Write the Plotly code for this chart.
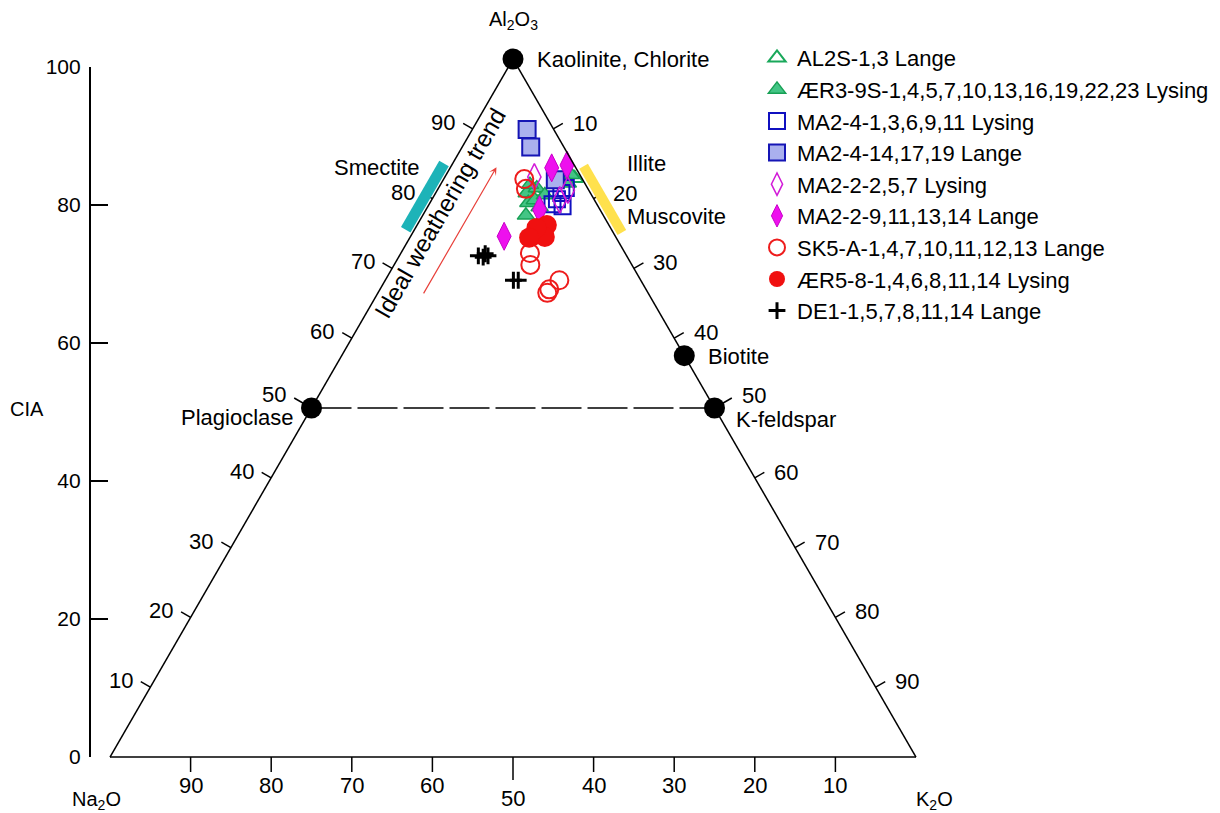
import numpy as np
import plotly.graph_objects as go

FONT = "Liberation Sans, Arial, sans-serif"
FIG_W, FIG_H = 1220, 813

# ---------------- data (A = Al2O3, CN = CaO*+Na2O, K = K2O ; molar %) ----------------
AL2S_A = [82.9, 81.0]
AL2S_CN = [0.9, 7.0]
AL2S_K = [16.2, 12.0]

AER3_A = [80.8, 79.4, 77.6, 79.8, 81.5, 83.4, 82.2, 80.5, 78.8, 82.0]
AER3_CN = [7.9, 8.4, 9.6, 7.4, 6.3, 1.1, 2.1, 5.8, 7.3, 6.9]
AER3_K = [11.3, 12.2, 12.8, 12.8, 12.2, 15.5, 15.7, 13.7, 13.9, 11.1]

MA24O_A = [79.2, 79.9, 78.9, 81.5, 80.8]
MA24O_CN = [5.5, 4.6, 4.4, 2.7, 3.6]
MA24O_K = [15.3, 15.5, 16.7, 15.8, 15.6]

MA24F_A = [89.9, 87.4, 82.7]
MA24F_CN = [3.3, 4.1, 3.4]
MA24F_K = [6.8, 8.5, 13.9]

MA22O_A = [83.1, 79.8, 81.2]
MA22O_CN = [5.8, 4.3, 2.6]
MA22O_K = [11.1, 15.9, 16.2]

MA22F_A = [84.4, 84.8, 78.4, 74.6]
MA22F_CN = [3.0, 0.9, 7.5, 13.8]
MA22F_K = [12.6, 14.3, 14.1, 11.6]

SK5_A = [82.8, 81.4, 72.2, 70.5, 67.0, 68.3, 66.5]
SK5_CN = [7.2, 7.7, 11.8, 12.6, 12.0, 10.1, 12.5]
SK5_K = [10.0, 10.9, 16.0, 16.9, 21.0, 21.6, 21.0]

AER5_A = [74.6, 75.2, 76.2, 74.5, 75.8, 74.4]
AER5_CN = [10.3, 9.1, 7.7, 8.8, 9.2, 10.8]
AER5_K = [15.1, 15.7, 16.1, 16.7, 15.0, 14.8]

DE1_A = [71.8, 71.6, 71.8, 68.3, 68.3, 72.1]
DE1_CN = [18.4, 17.9, 17.2, 15.8, 15.2, 17.4]
DE1_K = [9.8, 10.5, 11.0, 15.9, 16.5, 10.5]

MIN_NAMES = ["Kaolinite, Chlorite", "Plagioclase", "K-feldspar", "Biotite"]
MIN_A = [100, 50, 50, 57.5]
MIN_CN = [0, 50, 0, 0]
MIN_K = [0, 0, 50, 42.5]

FELDSPAR_A = [50, 50]
FELDSPAR_CN = [50, 0]
FELDSPAR_K = [0, 50]

SMECTITE_A = [75.0, 84.5]      # on A-CN edge
ILLITE_A = [74.6, 84.1]        # on A-K edge
TREND_A = [66.2, 84.5]
TREND_K = 5.7

TICKS = [10, 20, 30, 40, 50, 60, 70, 80, 90]
CIA_TICKS = [0, 20, 40, 60, 80, 100]

# ---------------- geometry helpers ----------------
TRI_X0, TRI_X1, TRI_YB = 110, 916, 757
TRI_W = TRI_X1 - TRI_X0
TRI_H = TRI_W * np.sqrt(3) / 2
TRI_YT = TRI_YB - TRI_H
CIA_Y0, CIA_Y100 = 757, 67
CIA_X = 90
S3 = np.sqrt(3) / 2


def tern_px(a, k):
    x = TRI_X0 + TRI_W * (k + a / 2) / 100
    y = TRI_YB - TRI_H * a / 100
    return x, y


def paper(x, y):
    return x / FIG_W, 1 - y / FIG_H


fig = go.Figure()

# dashed feldspar join
fig.add_trace(go.Scatterternary(
    a=FELDSPAR_A, b=FELDSPAR_CN, c=FELDSPAR_K, mode="lines",
    line=dict(color="black", width=1.5, dash="40px,6px"),
    showlegend=False, hoverinfo="skip", cliponaxis=False))

series = [
    ("AL2S-1,3 Lange", AL2S_A, AL2S_CN, AL2S_K,
     dict(symbol="triangle-up-open", size=15, color="#19a85a", line=dict(width=2, color="#19a85a"))),
    ("ÆR3-9S-1,4,5,7,10,13,16,19,22,23 Lysing", AER3_A, AER3_CN, AER3_K,
     dict(symbol="triangle-up", size=15, color="#43c585", line=dict(width=1.5, color="#17a055"))),
    ("MA2-4-1,3,6,9,11 Lysing", MA24O_A, MA24O_CN, MA24O_K,
     dict(symbol="square-open", size=16, color="#1010c0", line=dict(width=2, color="#1010c0"))),
    ("MA2-4-14,17,19 Lange", MA24F_A, MA24F_CN, MA24F_K,
     dict(symbol="square", size=17, color="#aab0ee", line=dict(width=2, color="#1515b5"))),
    ("MA2-2-2,5,7 Lysing", MA22O_A, MA22O_CN, MA22O_K,
     dict(symbol="diamond-tall-open", size=19, color="#d21ad8", line=dict(width=1.5, color="#d21ad8"))),
    ("MA2-2-9,11,13,14 Lange", MA22F_A, MA22F_CN, MA22F_K,
     dict(symbol="diamond-tall", size=20, color="#ee10ee", line=dict(width=1, color="#c800c8"))),
    ("SK5-A-1,4,7,10,11,12,13 Lange", SK5_A, SK5_CN, SK5_K,
     dict(symbol="circle-open", size=18, color="#ee1c1c", line=dict(width=2, color="#ee1c1c"))),
    ("ÆR5-8-1,4,6,8,11,14 Lysing", AER5_A, AER5_CN, AER5_K,
     dict(symbol="circle", size=20, color="#f01010", line=dict(width=0, color="#f01010"))),
    ("DE1-1,5,7,8,11,14 Lange", DE1_A, DE1_CN, DE1_K,
     dict(symbol="cross-thin-open", size=12, color="black", line=dict(width=3, color="black"))),
]
for name, a, cn, k, mk in series:
    fig.add_trace(go.Scatterternary(
        a=a, b=cn, c=k, mode="markers", name=name, marker=mk, cliponaxis=False))

# end-member minerals
fig.add_trace(go.Scatterternary(
    a=MIN_A, b=MIN_CN, c=MIN_K, mode="markers", text=MIN_NAMES,
    marker=dict(symbol="circle", size=21, color="black"),
    showlegend=False, cliponaxis=False, hoverinfo="text"))

# invisible cartesian trace to carry the CIA axis
fig.add_trace(go.Scatter(x=[0.5], y=[50], mode="markers", marker=dict(opacity=0),
                         showlegend=False, hoverinfo="skip", xaxis="x", yaxis="y"))

tern_axis = dict(
    title=dict(text=""), ticks="", showticklabels=False,
    showline=True, linecolor="black", linewidth=1.5, showgrid=False, min=0)

shapes = []
ann = []


def seg(x0, y0, x1, y1, color="black", width=1.5):
    p0 = paper(x0, y0)
    p1 = paper(x1, y1)
    shapes.append(dict(type="line", xref="paper", yref="paper", x0=p0[0], y0=p0[1],
                       x1=p1[0], y1=p1[1], line=dict(color=color, width=width)))


def label(text, x, y, xanchor="center", size=22, textangle=0, yanchor="middle"):
    px, py = paper(x, y)
    ann.append(dict(text=text, x=px, y=py, xref="paper", yref="paper", showarrow=False,
                    xanchor=xanchor, yanchor=yanchor, textangle=textangle,
                    font=dict(size=size, color="black", family=FONT)))


# ---------------- ternary ticks (perpendicular to edges) ----------------
TICK_FS = 22
for t in TICKS:
    # left edge: Al2O3
    L = 20 if t == 50 else 11
    ex, ey = tern_px(t, 0)
    tx, ty = ex - L * S3, ey - L * 0.5
    seg(ex, ey, tx, ty)
    label(str(t), tx - 6, ty - (3 if t == 50 else 1), xanchor="right", size=TICK_FS)
    # right edge: K2O
    ex, ey = tern_px(100 - t, t)
    tx, ty = ex + L * S3, ey - L * 0.5
    seg(ex, ey, tx, ty)
    label(str(t), tx + 8, ty - (2 if t == 50 else 0), xanchor="left", size=TICK_FS)
    # bottom edge: Na2O (CN)
    Lb = 23 if t == 50 else 15
    ex, ey = tern_px(0, 100 - t)
    seg(ex, ey, ex, ey + Lb)
    label(str(t), ex, ey + Lb + (18 if t == 50 else 13), size=TICK_FS)


def edge_bar(avals, side, color, width, offset=7.5):
    if side == "left":
        pts = [tern_px(a, 0) for a in avals]
        n = (-S3, -0.5)
    else:
        pts = [tern_px(a, 100 - a) for a in avals]
        n = (S3, -0.5)
    (x0, y0), (x1, y1) = [(p[0] + offset * n[0], p[1] + offset * n[1]) for p in pts]
    seg(x0, y0, x1, y1, color=color, width=width)


edge_bar(SMECTITE_A, "left", "#1db3b8", 11)
edge_bar(ILLITE_A, "right", "#ffe14d", 10)

# ---------------- labels ----------------
label("Al<sub>2</sub>O<sub>3</sub>", 513, 20, size=20)
label("Na<sub>2</sub>O", 96, 800, size=20)
label("K<sub>2</sub>O", 934, 800, size=20)
label("CIA", 27, 409, size=20)

kx, ky = tern_px(MIN_A[0], MIN_K[0])
label(MIN_NAMES[0], kx + 22, ky + 1, xanchor="left")
plx, ply = tern_px(MIN_A[1], MIN_K[1])
label(MIN_NAMES[1], plx - 16, ply + 10, xanchor="right")
kfx, kfy = tern_px(MIN_A[2], MIN_K[2])
label(MIN_NAMES[2], kfx + 20, kfy + 12, xanchor="left")
btx, bty = tern_px(MIN_A[3], MIN_K[3])
label(MIN_NAMES[3], btx + 22, bty + 1, xanchor="left")

label("Smectite", 422, 168, xanchor="right")
label("Illite", 625, 164, xanchor="left")
label("Muscovite", 625, 217, xanchor="left")

tx, ty = tern_px(78.0, 2.0)
label("Ideal weathering trend", tx, ty, textangle=-60, size=24)

hx, hy = tern_px(TREND_A[1], TREND_K)
tlx, tly = tern_px(TREND_A[0], TREND_K)
hpx, hpy = paper(hx, hy)
ann.append(dict(text="", x=hpx, y=hpy, xref="paper", yref="paper", showarrow=True,
                ax=tlx - hx, ay=tly - hy, arrowhead=3, arrowsize=1.1, arrowwidth=1.2,
                arrowcolor="#e8403a", standoff=0, startstandoff=0))

fig.update_layout(
    width=FIG_W, height=FIG_H,
    margin=dict(l=0, r=0, t=0, b=0, pad=0),
    paper_bgcolor="white", plot_bgcolor="rgba(0,0,0,0)",
    font=dict(family=FONT, color="black"),
    ternary=dict(
        sum=100,
        domain=dict(x=[TRI_X0 / FIG_W, TRI_X1 / FIG_W], y=[1 - TRI_YB / FIG_H, 1 - TRI_YT / FIG_H]),
        bgcolor="rgba(0,0,0,0)",
        aaxis=tern_axis, baxis=tern_axis, caxis=tern_axis),
    xaxis=dict(domain=[0, 1], range=[0, 1], visible=False, fixedrange=True),
    yaxis=dict(domain=[1 - CIA_Y0 / FIG_H, 1 - CIA_Y100 / FIG_H], range=[0, 100],
               anchor="free", position=CIA_X / FIG_W, side="left",
               tickmode="array", tickvals=CIA_TICKS, ticks="inside", ticklen=17, tickwidth=2,
               tickcolor="black", showline=True, linecolor="black", linewidth=2.2,
               showgrid=False, zeroline=False, automargin=False, ticklabelstandoff=4,
               tickfont=dict(size=21, color="black", family=FONT)),
    legend=dict(x=757 / FIG_W, y=1 - 37 / FIG_H, xanchor="left", yanchor="top",
                font=dict(size=22, family=FONT, color="black"), bgcolor="rgba(0,0,0,0)",
                tracegroupgap=0),
    shapes=shapes, annotations=ann,
    showlegend=True,
)

fig.write_html("out.html")
